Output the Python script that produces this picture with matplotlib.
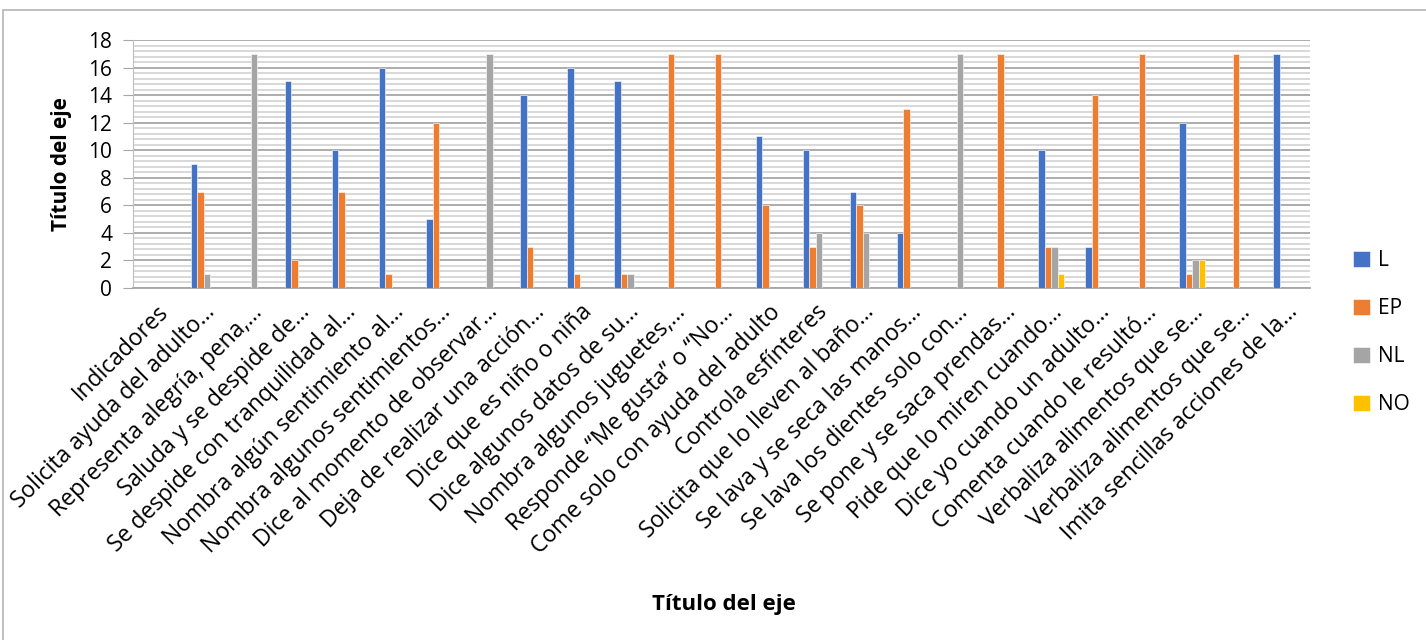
import numpy as np
import matplotlib
matplotlib.use('Agg')
import matplotlib.pyplot as plt
from matplotlib.ticker import MultipleLocator
from matplotlib.patches import Rectangle
from matplotlib.transforms import ScaledTranslation

plt.rcParams['font.family'] = ['Open Sans', 'DejaVu Sans']

indicadores = [
    'Indicadores',
    'Solicita ayuda del adulto…',
    'Representa alegría, pena,…',
    'Saluda y se despide de…',
    'Se despide con tranquilidad al…',
    'Nombra algún sentimiento al…',
    'Nombra algunos sentimientos…',
    'Dice al momento de observar…',
    'Deja de realizar una acción…',
    'Dice que es niño o niña',
    'Dice algunos datos de su…',
    'Nombra algunos juguetes,…',
    'Responde \u201cMe gusta\u201d o \u201cNo…',
    'Come solo con ayuda del adulto',
    'Controla esfínteres',
    'Solicita que lo lleven al baño…',
    'Se lava y se seca las manos…',
    'Se lava los dientes solo con…',
    'Se pone y se saca prendas…',
    'Pide que lo miren cuando…',
    'Dice yo cuando un adulto…',
    'Comenta cuando le resultó…',
    'Verbaliza alimentos que se…',
    'Verbaliza alimentos que se…',
    'Imita sencillas acciones de la…',
]

L  = [0, 9, 0, 15, 10, 16, 5, 0, 14, 16, 15, 0, 0, 11, 10, 7, 4, 0, 0, 10, 3, 0, 12, 0, 17]
EP = [0, 7, 0, 2, 7, 1, 12, 0, 3, 1, 1, 17, 17, 6, 3, 6, 13, 0, 17, 3, 14, 17, 1, 17, 0]
NL = [0, 1, 17, 0, 0, 0, 0, 17, 0, 0, 1, 0, 0, 0, 4, 4, 0, 17, 0, 3, 0, 0, 2, 0, 0]
NO = [0, 0, 0, 0, 0, 0, 0, 0, 0, 0, 0, 0, 0, 0, 0, 0, 0, 0, 0, 1, 0, 0, 2, 0, 0]

series = [('L', L, '#4472C4'), ('EP', EP, '#ED7D31'),
          ('NL', NL, '#A5A5A5'), ('NO', NO, '#FFC000')]

fig = plt.figure(figsize=(14.26, 6.4), dpi=100)
fig.patches.append(Rectangle((0.002, -0.01), 1.1, 0.995, transform=fig.transFigure,
                             fill=False, edgecolor='#b4b4b4', linewidth=1.2))
ax = fig.add_axes([0.0933, 0.55, 0.8253, 0.3875])

x = np.arange(len(indicadores))
w = 0.138
for i, (nombre, vals, color) in enumerate(series):
    ax.bar(x + (i - 1.5) * w, vals, width=w, color=color, label=nombre,
           edgecolor='white', linewidth=0.4, zorder=3)

ax.set_xlim(-0.5, len(indicadores) - 0.5)
ax.set_ylim(0, 18)
ax.yaxis.set_major_locator(MultipleLocator(2))
ax.yaxis.set_minor_locator(MultipleLocator(0.4))
ax.grid(axis='y', which='major', color='#a6a6a6', linewidth=1.3, zorder=1)
ax.grid(axis='y', which='minor', color='#d6d6d6', linewidth=1.3, zorder=0)

for s in ['top', 'right']:
    ax.spines[s].set_visible(False)
ax.spines['left'].set_color('#bfbfbf')
ax.spines['bottom'].set_color('#a6a6a6')
ax.spines['bottom'].set_linewidth(1.3)

ax.tick_params(axis='y', which='major', length=7, color='#a6a6a6', labelsize=15, pad=8)
ax.tick_params(axis='y', which='minor', length=0)
ax.tick_params(axis='x', length=0, labelsize=16.5, pad=15)
ax.set_xticks(x)
ax.set_xticklabels(indicadores, rotation=45, ha='right', va='center',
                   rotation_mode='anchor')
# nudge the slanted labels a bit to the right
desplaza = ScaledTranslation(0.08, 0, fig.dpi_scale_trans)
for etiqueta in ax.get_xticklabels():
    etiqueta.set_transform(etiqueta.get_transform() + desplaza)

ax.set_ylabel('Título del eje', fontsize=15, fontweight='bold', labelpad=12)
fig.text(0.508, 0.055, 'Título del eje', fontsize=16, fontweight='bold',
         ha='center', va='center')

fig.legend(loc='center left', bbox_to_anchor=(0.936, 0.48), frameon=False,
           fontsize=15, handlelength=0.8, handleheight=0.8, handletextpad=0.4,
           labelspacing=1.3)

fig.savefig('out.png', dpi=100, facecolor='white')
